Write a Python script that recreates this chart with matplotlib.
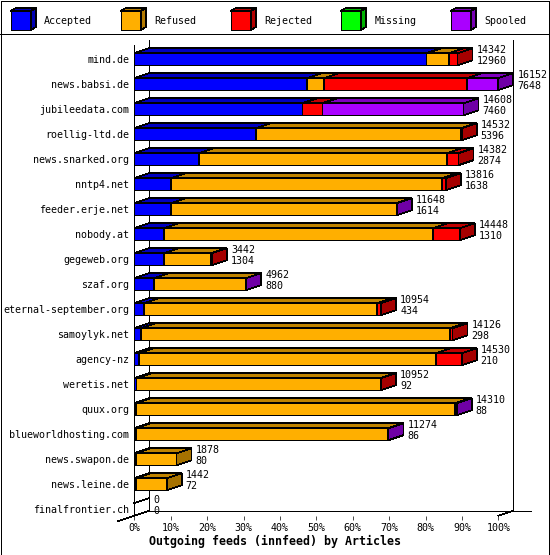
import matplotlib
matplotlib.use("Agg")
import matplotlib.pyplot as plt
from matplotlib.patches import Polygon, Rectangle
from matplotlib.lines import Line2D
from matplotlib.colors import to_rgb
import numpy as np

# innfeed outgoing feeds, articles per peer
hosts = ["mind.de", "news.babsi.de", "jubileedata.com", "roellig-ltd.de",
         "news.snarked.org", "nntp4.net", "feeder.erje.net", "nobody.at",
         "gegeweb.org", "szaf.org", "eternal-september.org", "samoylyk.net",
         "agency-nz", "weretis.net", "quux.org", "blueworldhosting.com",
         "news.swapon.de", "news.leine.de", "finalfrontier.ch"]
totals = [14342, 16152, 14608, 14532, 14382, 13816, 11648, 14448, 3442, 4962,
          10954, 14126, 14530, 10952, 14310, 11274, 1878, 1442, 0]
accepted = [12960, 7648, 7460, 5396, 2874, 1638, 1614, 1310, 1304, 880,
            434, 298, 210, 92, 88, 86, 80, 72, 0]
refused = [1012, 763, 0, 9106, 11002, 12018, 10014, 11927, 2108, 4072,
           10334, 13695, 13180, 10830, 14122, 11178, 1798, 1370, 0]
rejected = [370, 6354, 887, 30, 506, 160, 0, 1211, 30, 0,
            186, 133, 1140, 30, 20, 0, 0, 0, 0]
missing = [0] * 19
spooled = [0, 1387, 6261, 0, 0, 0, 20, 0, 0, 10,
           0, 0, 0, 0, 80, 10, 0, 0, 0]

categories = ["Accepted", "Refused", "Rejected", "Missing", "Spooled"]
series = [accepted, refused, rejected, missing, spooled]
colors = ["#0000FF", "#FFAF00", "#FF0000", "#00FF00", "#AA00FF"]

W, H = 550, 555
FONT = "DejaVu Sans Mono"
FS = 7.2
LW = 0.5

fig = plt.figure(figsize=(W / 100, H / 100), dpi=100)


def fx(px):
    return px / W


def fy(py):
    return 1 - py / H


def shade(c, k):
    r, g, b = to_rgb(c)
    return (r * k, g * k, b * k)


# plot area: front x axis 134..498 px, rows 25 px apart
ax = fig.add_axes([fx(134.3), fy(515.7), fx(498.3) - fx(134.3), fy(45) - fy(515.7)])
ytop = (45 - 59.2) / 25
ybot = (515.7 - 59.2) / 25
ax.set_xlim(0, 100)
ax.set_ylim(ybot, ytop)

# 3d depth (15 px right, 5 px up) in data units
inv = ax.transData.inverted()
a = inv.transform([[0, 0], [15, 5]])
dx, dy = a[1, 0] - a[0, 0], a[1, 1] - a[0, 1]
px_x = 100 / (498.3 - 134.3)

lk = dict(color="black", lw=LW, clip_on=False, antialiased=False, zorder=1)
ax.plot([dx, dx], [ytop + dy, ybot + dy], **lk)
ax.plot([100 + dx, 100 + dx], [ytop + dy, ybot + dy], **lk)
ax.plot([dx, 100 + dx + 18 * px_x], [ybot + dy, ybot + dy], **lk)
ax.plot([-16 / 15 * dx, dx], [ybot - 16 / 15 * dy, ybot + dy], **lk)
ax.plot([100, 100 + dx], [ybot, ybot + dy], **lk)

vmax = max(totals)
h = 0.24


def box(x0, x1, y, color, z):
    t, b = y - h, y + h
    front = [(x0, t), (x1, t), (x1, b), (x0, b)]
    topf = [(x0, t), (x1, t), (x1 + dx, t + dy), (x0 + dx, t + dy)]
    side = [(x1, t), (x1 + dx, t + dy), (x1 + dx, b + dy), (x1, b)]
    for pts, c in ((front, color), (topf, shade(color, 0.75)), (side, shade(color, 0.65))):
        ax.add_patch(Polygon(pts, closed=True, facecolor=c, edgecolor="black",
                             lw=LW, clip_on=False, antialiased=False, zorder=z))


for i, host in enumerate(hosts):
    left = 0.0
    z = 2
    for vals, c in zip(series, colors):
        v = vals[i] / vmax * 100
        if v > 0:
            box(left, left + v, i, c, z)
            left += v
            z += 1
    if totals[i] == 0:
        ax.plot([0, dx], [i - h, i - h + dy], **lk)
    end = totals[i] / vmax * 100
    ax.annotate(str(totals[i]), xy=(end, i), xytext=(19, 9.2), textcoords="offset pixels",
                ha="left", va="center", family=FONT, fontsize=FS, annotation_clip=False)
    ax.annotate(str(accepted[i]), xy=(end, i), xytext=(19, -1.8), textcoords="offset pixels",
                ha="left", va="center", family=FONT, fontsize=FS, annotation_clip=False)

for s in ["top", "right", "bottom"]:
    ax.spines[s].set_visible(False)
ax.spines["left"].set_linewidth(LW)
ax.spines["left"].set_antialiased(False)
ax.set_facecolor("none")

ax.set_yticks(range(len(hosts)))
ax.set_yticklabels(hosts, family=FONT, fontsize=FS)
ax.tick_params(axis="y", length=0, pad=3.5)
ax.set_xticks(range(0, 101, 10))
ax.set_xticklabels([f"{v}%" for v in range(0, 101, 10)], family=FONT, fontsize=FS)
ax.tick_params(axis="x", length=3.1, width=LW, pad=2)

fig.text(0.5, fy(541.7), "Outgoing feeds (innfeed) by Articles", ha="center", va="center",
         family=FONT, fontweight="bold", fontsize=8.4)

# legend strip
lax = fig.add_axes([0, fy(33.5), 1, 33.5 / H])
lax.set_xlim(0, W)
lax.set_ylim(33.5, 0)
lax.axis("off")
for k, (name, c) in enumerate(zip(categories, colors)):
    x0 = 10.7 + 110 * k
    pts_f = [(x0, 11), (x0 + 20, 11), (x0 + 20, 30), (x0, 30)]
    pts_t = [(x0, 11), (x0 + 20, 11), (x0 + 25, 8), (x0 + 5, 8)]
    pts_s = [(x0 + 20, 11), (x0 + 25, 8), (x0 + 25, 27), (x0 + 20, 30)]
    for pts, cc in ((pts_f, c), (pts_t, shade(c, 0.7)), (pts_s, shade(c, 0.7))):
        lax.add_patch(Polygon(pts, closed=True, facecolor=cc, edgecolor="black",
                              lw=LW, antialiased=False))
    lax.text(x0 + 33.6, 20.5, name, ha="left", va="center", family=FONT, fontsize=FS)

# outer border and separator
fig.add_artist(Line2D([0, 1], [fy(33.5), fy(33.5)], transform=fig.transFigure,
                      color="black", lw=LW, antialiased=False))
fig.add_artist(Rectangle((0.5 / W, 0.5 / H), 1 - 1.5 / W, 1 - 1.5 / H, transform=fig.transFigure,
                         fill=False, edgecolor="black", lw=LW, antialiased=False))

fig.savefig("out.png", dpi=100, facecolor="white")
